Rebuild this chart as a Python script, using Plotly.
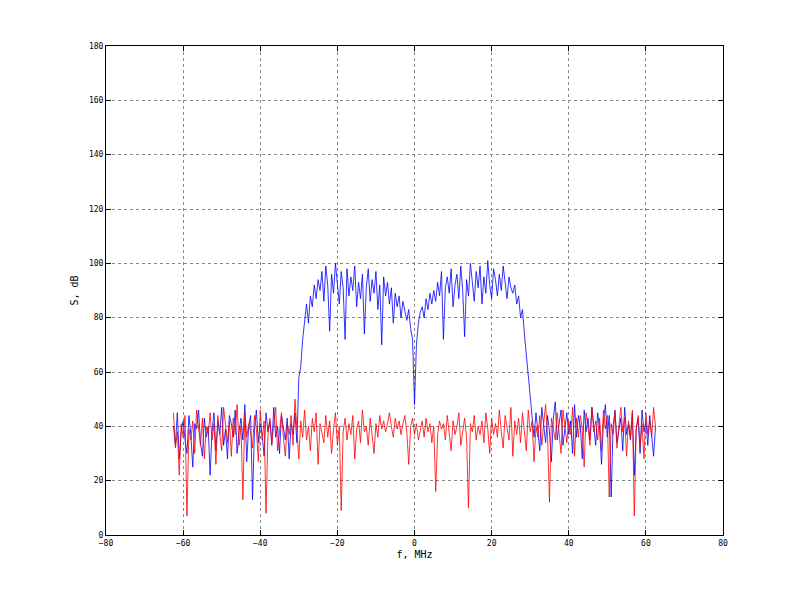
import numpy as np
import plotly.graph_objects as go

# frequency grid, MHz
freq = np.arange(-62.5, 62.51, 0.5)

blue_db = [
    40, 33, 45, 28, 38, 42, 35, 30, 44, 37,
    25, 41, 39, 46, 34, 29, 43, 36, 40, 22,
    38, 45, 31, 42, 37, 47, 33, 39, 28, 44,
    41, 36, 46, 30, 38, 43, 35, 48, 27, 40,
    44, 13, 39, 46, 34, 41, 37, 29, 45, 38,
    42, 33, 47, 36, 40, 30, 44, 39, 35, 43,
    28, 41, 37, 45, 34,
    58, 62, 72, 80, 85, 78, 88, 84, 92, 87, 94,
    90, 97, 86, 99, 92, 75, 96, 89, 100, 93,
    85, 97, 91, 72, 98, 88, 95, 90, 99, 84,
    93, 87, 96, 74, 91, 98, 86, 94, 89, 97,
    83, 92, 70, 95, 88, 93, 85, 91, 78, 89,
    84, 88, 80, 86, 82, 79, 83, 76, 72, 48,
    70, 78, 82, 84, 80, 87, 83, 89, 85, 90,
    86, 93, 88, 97, 72, 91, 95, 89, 98, 84,
    92, 96, 87, 99, 90, 73, 94, 88, 100, 93,
    86, 97, 91, 99, 85, 95, 89, 101, 92, 87,
    98, 94, 88, 96, 90, 99, 93, 87, 95, 91,
    89, 92, 85, 88, 80, 83, 74, 66, 58, 50,
    42, 36, 45, 39, 31, 47, 40, 34, 44, 38,
    27, 43, 49, 35, 41, 46, 33, 39, 45, 37,
    42, 30, 48, 36, 44, 40, 28, 46, 38, 43,
    35, 47, 41, 33, 45, 39, 26, 42, 48, 36,
    44, 14, 40, 46, 34, 38, 43, 31, 47, 37,
    41, 35, 45, 22, 39, 43, 30, 46, 38, 42,
    33, 44, 37, 29, 40,
]

red_db = [
    45, 32, 38, 22, 41, 36, 44, 7, 39, 35,
    42, 30, 46, 38, 33, 43, 28, 40, 37, 45,
    35, 41, 26, 44, 38, 31, 47, 39, 34, 42,
    29, 43, 37, 48, 33, 40, 13, 45, 36, 41,
    38, 32, 44, 39, 27, 46, 35, 42, 8, 37,
    43, 34, 40, 47, 31, 38, 45, 36, 29, 41,
    37, 44, 33, 50, 39, 28, 42, 36, 46, 35,
    40, 31, 43, 38, 45, 26, 41, 37, 34, 44,
    36, 42, 30, 39, 45, 33, 40, 9, 38, 43,
    35, 41, 37, 44, 28, 39, 42, 34, 46, 38,
    40, 33, 43, 37, 30, 41, 36, 44, 39, 42,
    38, 41, 45, 40, 36, 43, 39, 42, 37, 41,
    44, 38, 26, 40, 43, 37, 41, 35, 39, 42,
    36, 43, 38, 41, 34, 40, 16, 37, 42, 39,
    41, 35, 44, 38, 31, 42, 37, 40, 45, 33,
    39, 43, 36, 10, 41, 38, 44, 35, 40, 37,
    42, 34, 45, 39, 30, 43, 37, 41, 36, 46,
    38, 32, 44, 40, 35, 47, 29, 42, 37, 43,
    34, 45, 39, 31, 46, 38, 42, 27, 40, 36,
    44, 33, 41, 48, 37, 12, 43, 39, 35, 45,
    38, 30, 46, 41, 34, 42, 37, 47, 29, 43,
    36, 44, 39, 25, 45, 40, 33, 47, 38, 42,
    35, 43, 31, 46, 39, 44, 14, 41, 37, 45,
    32, 40, 47, 38, 43, 29, 42, 36, 46, 7,
    39, 44, 33, 41, 28, 45, 37, 42, 36, 47,
    40,
]

fig = go.Figure()
fig.add_trace(go.Scatter(x=freq, y=blue_db, mode="lines",
                         line=dict(color="#0000ff", width=0.8)))
fig.add_trace(go.Scatter(x=freq, y=red_db, mode="lines",
                         line=dict(color="#ff0000", width=0.8)))

axis = dict(showline=True, linecolor="black", linewidth=1, mirror="ticks",
            ticks="inside", ticklen=5, tickcolor="black", automargin=False,
            showgrid=True, gridcolor="#888888", griddash="dot", gridwidth=0.7,
            zeroline=False, tickfont=dict(size=8, color="black"))

fig.update_layout(
    width=799, height=600,
    margin=dict(l=98, r=84, t=38, b=73),
    paper_bgcolor="white", plot_bgcolor="white",
    showlegend=False,
    font=dict(family="DejaVu Sans Mono", size=8, color="black"),
    xaxis=dict(axis, range=[-80, 80], dtick=20,
               title=dict(text="f, MHz", standoff=4)),
    yaxis=dict(axis, range=[0, 180], dtick=20,
               title=dict(text="S, dB", standoff=8)),
)

fig.write_html("out.html")
